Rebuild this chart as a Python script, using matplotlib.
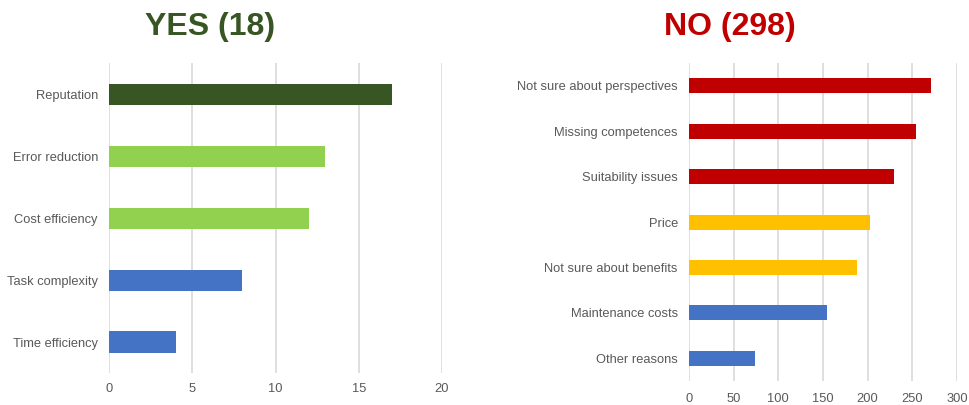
import matplotlib.pyplot as plt

# YES panel
yes_labels = ['Reputation', 'Error reduction', 'Cost efficiency', 'Task complexity', 'Time efficiency']
yes_values = [17, 13, 12, 8, 4]
yes_colors = ['#375623', '#92d050', '#92d050', '#4472c4', '#4472c4']

# NO panel
no_labels = ['Not sure about perspectives', 'Missing competences', 'Suitability issues', 'Price',
             'Not sure about benefits', 'Maintenance costs', 'Other reasons']
no_values = [271, 254, 229, 203, 188, 155, 74]
no_colors = ['#c00000', '#c00000', '#c00000', '#ffc000', '#ffc000', '#4472c4', '#4472c4']

plt.rcParams['font.family'] = ['Liberation Sans', 'DejaVu Sans']

fig = plt.figure(figsize=(9.69, 4.05), dpi=100)
ax1 = fig.add_axes([0.1125, 0.079, 0.3437, 0.765])
ax2 = fig.add_axes([0.711, 0.0593, 0.2766, 0.785])


def style(ax, labels, values, colors, xmax, step, height, pad_x):
    y = range(len(labels))
    ax.barh(y, values, color=colors, height=height, zorder=3)
    ax.set_yticks(list(y))
    ax.set_yticklabels(labels)
    ax.set_ylim(len(labels) - 0.5, -0.5)
    ax.set_xlim(0, xmax)
    ax.set_xticks(range(0, xmax + 1, step))
    ax.grid(axis='x', color='#d9d9d9', linewidth=1.2, zorder=0)
    for s in ax.spines.values():
        s.set_visible(False)
    ax.tick_params(axis='both', length=0, labelsize=9.3, labelcolor='#595959')
    ax.tick_params(axis='y', pad=8)
    ax.tick_params(axis='x', pad=pad_x)


style(ax1, yes_labels, yes_values, yes_colors, 20, 5, 0.34, 7.5)
style(ax2, no_labels, no_values, no_colors, 300, 50, 0.33, 8.5)

fig.text(210 / 969, 1 - 34.5 / 405, 'YES (18)', ha='center', va='baseline', fontsize=23,
         fontweight='bold', color='#375623')
fig.text(730 / 969, 1 - 34.5 / 405, 'NO (298)', ha='center', va='baseline', fontsize=23,
         fontweight='bold', color='#c00000')

fig.savefig('out.png', dpi=100)
